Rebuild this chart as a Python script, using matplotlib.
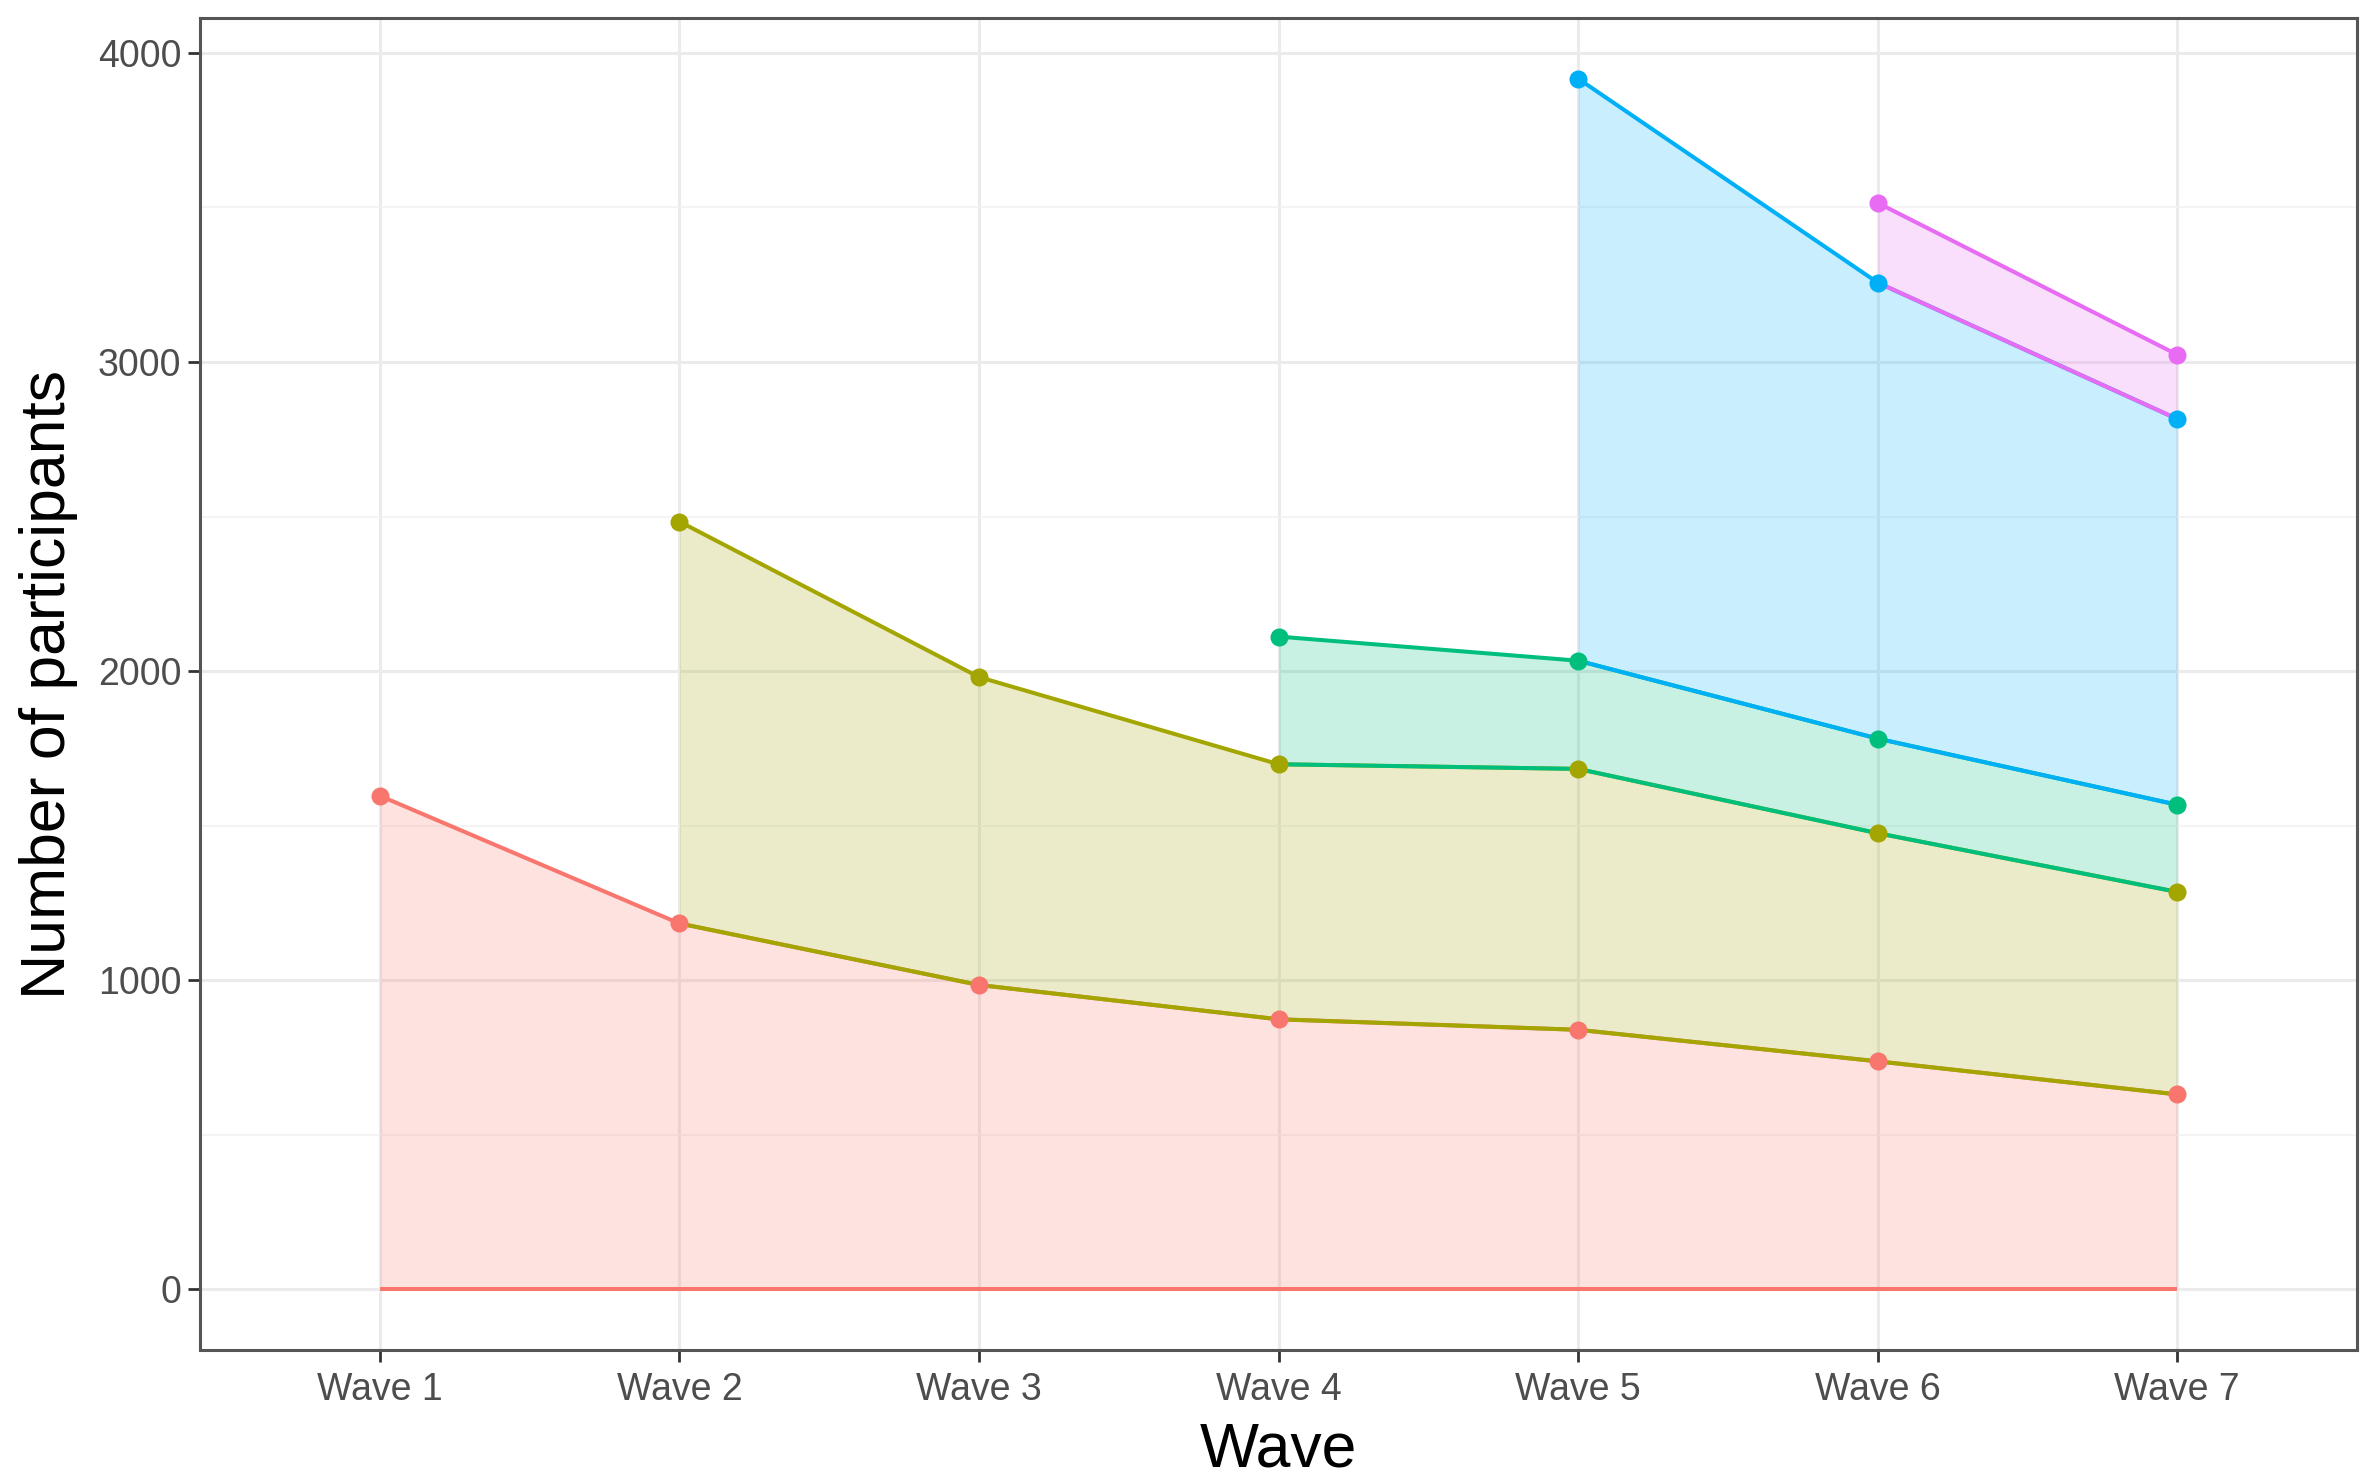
import numpy as np
import matplotlib
matplotlib.use("Agg")
import matplotlib.pyplot as plt

plt.rcParams['font.family'] = ['Liberation Sans', 'DejaVu Sans']

waves = ["Wave 1", "Wave 2", "Wave 3", "Wave 4", "Wave 5", "Wave 6", "Wave 7"]
nan = np.nan
# participants of each recruitment cohort at each wave
cohort_w1 = [1597, 1184, 985, 874, 840, 738, 631]
cohort_w2 = [nan, 1300, 996, 825, 844, 738, 655]
cohort_w4 = [nan, nan, nan, 413, 350, 306, 282]
cohort_w5 = [nan, nan, nan, nan, 1883, 1475, 1248]
cohort_w6 = [nan, nan, nan, nan, nan, 258, 208]
cohorts = [cohort_w1, cohort_w2, cohort_w4, cohort_w5, cohort_w6]
colors = ["#F8766D", "#A3A500", "#00BF7D", "#00B0F6", "#E76BF3"]

fig = plt.figure(figsize=(23.6, 14.75), dpi=100)
ax = fig.add_axes([0.0848, 0.0847, 0.9139, 0.9031])

x = np.arange(1, len(waves) + 1)
base = np.zeros(len(waves))
tops = []
for vals, col in zip(cohorts, colors):
    v = np.array(vals, dtype=float)
    m = ~np.isnan(v)
    lo = base.copy()
    hi = base + np.nan_to_num(v)
    ax.fill_between(x[m], lo[m], hi[m], color=col, alpha=0.21, linewidth=0, zorder=2)
    ax.plot(x[m], lo[m], color=col, lw=2.9, zorder=3, solid_capstyle='butt')
    ax.plot(x[m], hi[m], color=col, lw=2.9, zorder=3, solid_capstyle='butt')
    tops.append((x[m], hi[m], col))
    base = hi
for xx, yy, col in tops:
    ax.plot(xx, yy, 'o', color=col, ms=13, mec='none', zorder=4)

ax.set_xlim(0.4, 7.6)
ax.set_ylim(-196, 4113)
ax.set_xticks(x)
ax.set_xticklabels(waves)
ax.set_yticks([0, 1000, 2000, 3000, 4000])
ax.set_yticks([500, 1500, 2500, 3500], minor=True)
ax.grid(True, which='major', color='#EBEBEB', lw=2.2, zorder=0)
ax.grid(True, which='minor', axis='y', color='#F2F2F2', lw=1.2, zorder=0)
ax.set_axisbelow(True)
for s in ax.spines.values():
    s.set_color('#555555')
    s.set_linewidth(2.2)
ax.tick_params(axis='both', which='major', labelsize=27, labelcolor='#4D4D4D',
               color='#333333', length=8.5, width=2.0, pad=5)
ax.tick_params(axis='x', which='major', pad=7)
ax.tick_params(axis='y', which='minor', length=0)
ax.set_xlabel("Wave", fontsize=45, labelpad=9)
ax.set_ylabel("Number of participants", fontsize=45, labelpad=14)

fig.savefig("out.png", dpi=100)
